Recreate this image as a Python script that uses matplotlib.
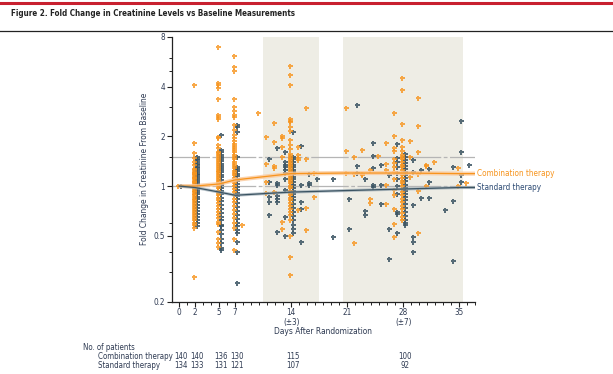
import matplotlib
matplotlib.use("Agg")
import matplotlib.pyplot as plt
from matplotlib.lines import Line2D
from matplotlib import font_manager

# pick a condensed font if one is installed
_avail = {(f.name, f.stretch) for f in font_manager.fontManager.ttflist}
_names = {n for n, s in _avail}
if 'Liberation Sans Narrow' in _names:
    plt.rcParams['font.family'] = ['Liberation Sans Narrow', 'DejaVu Sans']
    SCALE = 1.0
elif any(n == 'DejaVu Sans' and s == 'condensed' for n, s in _avail):
    plt.rcParams['font.family'] = ['DejaVu Sans']
    plt.rcParams['font.stretch'] = 'condensed'
    SCALE = 0.92
else:
    plt.rcParams['font.family'] = ['Liberation Sans', 'DejaVu Sans']
    SCALE = 0.9

# ---------------- data ----------------
combo_points = {
    0: [1.0],
    2: [4.1, 1.83, 1.59, 1.48, 1.4, 1.34, 0.28,
        1.27, 1.25, 1.22, 1.2, 1.18, 1.16, 1.14, 1.12, 1.1, 1.08, 1.06, 1.04, 1.02, 1.0,
        0.98, 0.96, 0.94, 0.92, 0.9, 0.88, 0.86, 0.84, 0.82, 0.8, 0.78, 0.76, 0.74, 0.72,
        0.7, 0.68, 0.66, 0.64, 0.62, 0.6, 0.58, 0.56],
    5: [7.0, 4.2, 4.1, 3.93, 3.37, 2.7, 2.62, 2.55, 1.99, 1.95, 1.78, 1.7,
        1.62, 1.58, 1.54, 1.5, 1.46, 1.42, 1.38, 1.34, 1.3, 1.27, 1.24, 1.21, 1.18, 1.15,
        1.12, 1.09, 1.06, 1.03, 1.0, 0.97, 0.94, 0.91, 0.88, 0.85, 0.82, 0.79, 0.76, 0.73,
        0.7, 0.67, 0.64, 0.61, 0.59, 0.53, 0.48, 0.45, 0.43],
    7: [6.17, 5.28, 5.0, 3.37, 3.01, 2.85, 2.7, 2.62, 2.35, 2.19, 2.04, 1.96, 1.88,
        1.8, 1.75, 1.7, 1.65, 1.6, 1.55, 1.5, 1.45, 1.4, 1.36, 1.32, 1.28, 1.24, 1.2, 1.16,
        1.12, 1.08, 1.04, 1.0, 0.96, 0.92, 0.88, 0.84, 0.8, 0.76, 0.72, 0.68, 0.64, 0.6,
        0.56, 0.48, 0.41],
    8: [0.58],
    10: [2.77],
    11: [1.97, 1.37, 1.06, 0.91],
    12: [2.41, 1.86, 1.33, 1.28, 0.92],
    13: [2.0, 1.95, 1.73, 1.5, 0.61, 0.55],
    14: [5.37, 4.68, 4.1, 2.56, 2.49, 2.43, 2.29, 2.17, 1.9, 1.78, 1.67, 1.56,
         1.52, 1.48, 1.45, 1.42, 1.38, 1.35, 1.32, 1.28, 1.25, 1.22, 1.2, 1.17, 1.14, 1.1,
         1.07, 1.04, 1.0, 0.97, 0.94, 0.91, 0.88, 0.85, 0.82, 0.79, 0.76, 0.73, 0.7, 0.67,
         0.62, 0.5, 0.37, 0.29],
    15: [1.73, 1.54, 1.49, 1.44, 0.72],
    16: [2.99, 1.45, 0.74, 0.54],
    17: [1.2, 0.86],
    21: [2.97, 1.63, 1.2],
    22: [1.5, 1.19, 0.45],
    23: [1.66, 1.18, 1.16],
    24: [1.26, 0.83, 0.79],
    25: [1.53],
    26: [1.83, 1.36, 1.25, 1.01, 0.78],
    27: [2.77, 2.0, 1.7, 1.64, 1.45, 1.38, 1.3, 1.22, 1.1, 0.95, 0.88, 0.73, 0.59, 0.49],
    28: [4.52, 3.83, 2.39, 1.9, 1.73, 1.63, 1.55, 1.5, 1.45, 1.4, 1.35, 1.3, 1.25, 1.2,
         1.16, 1.12, 1.08, 1.04, 1.0, 0.96, 0.92, 0.88, 0.84, 0.8, 0.76, 0.73, 0.69, 0.65,
         0.62],
    29: [1.88, 1.5, 1.14],
    30: [3.41, 2.32, 1.62, 1.19, 0.94, 0.52],
    31: [1.33, 1.34, 1.0],
    32: [1.39],
    35: [1.28, 1.0],
    36: [1.04],
}

standard_points = {
    0: [1.0],
    2: [1.5, 1.46, 1.43, 1.4, 1.37, 1.34, 1.31, 1.28, 1.25, 1.22, 1.19, 1.16, 1.13, 1.1,
        1.07, 1.04, 1.01, 0.98, 0.95, 0.92, 0.89, 0.86, 0.83, 0.8, 0.77, 0.74, 0.71, 0.68,
        0.65, 0.62, 0.6, 0.57],
    5: [2.04, 1.65, 1.6, 1.55, 1.5, 1.45, 1.41, 1.37, 1.33, 1.29, 1.25, 1.21, 1.17, 1.13,
        1.09, 1.05, 1.01, 0.97, 0.93, 0.89, 0.85, 0.81, 0.77, 0.73, 0.69, 0.65, 0.62, 0.58,
        0.57, 0.54, 0.51, 0.48, 0.45, 0.42, 0.41],
    7: [2.35, 2.28, 2.14, 1.5, 1.31, 1.27, 1.23, 1.19, 1.15, 1.11, 1.07, 1.03, 0.99, 0.95,
        0.91, 0.87, 0.83, 0.79, 0.75, 0.71, 0.67, 0.63, 0.6, 0.57, 0.54, 0.52, 0.46, 0.4,
        0.26],
    11: [1.45, 1.06, 0.86, 0.8, 0.67],
    12: [1.69, 1.04, 1.01, 0.87, 0.83, 0.8, 0.53],
    13: [1.62, 1.4, 1.35, 1.3, 1.25, 1.2, 1.1, 0.95, 0.65, 0.5],
    14: [2.13, 1.5, 1.45, 1.4, 1.35, 1.3, 1.26, 1.22, 1.18, 1.14, 1.1, 1.06, 1.02, 0.98,
         0.94, 0.9, 0.86, 0.82, 0.78, 0.74, 0.7, 0.66, 0.62, 0.58, 0.55, 0.52],
    15: [1.76, 1.01, 0.8, 0.73, 0.46],
    16: [1.19, 1.04, 1.01],
    17: [1.11],
    19: [1.1, 0.49],
    21: [0.83, 0.55],
    22: [3.1, 1.32, 1.2],
    23: [1.11, 0.71, 0.67],
    24: [1.83, 1.52, 1.29, 1.01, 0.99],
    25: [1.34, 1.02, 0.78],
    26: [1.17, 0.55, 0.36],
    27: [1.8, 1.49, 1.4, 1.3, 1.2, 1.1, 1.0, 0.9, 0.7, 0.68, 0.52],
    28: [1.56, 1.5, 1.44, 1.38, 1.32, 1.27, 1.22, 1.17, 1.12, 1.07, 1.02, 0.98, 0.94, 0.9,
         0.86, 0.82, 0.78, 0.74, 0.7, 0.66, 0.62, 0.6, 0.58],
    29: [1.44, 1.21, 0.77, 0.49, 0.46, 0.40],
    30: [1.25, 0.85],
    31: [1.27, 1.06, 0.85],
    33: [0.72],
    34: [1.31, 0.81, 0.35],
    35: [2.49, 1.6, 1.17, 1.06],
    36: [1.34],
}

mean_days = [0, 2, 5, 7, 14, 21, 28, 35, 37]
combo_mean = [1.0, 1.0, 1.03, 1.09, 1.19, 1.2, 1.2, 1.19, 1.19]
standard_mean = [1.0, 0.98, 0.92, 0.88, 0.92, 0.94, 0.96, 0.98, 0.98]

shade_windows = [(10.5, 17.5), (20.5, 35.5)]

xtick_pos = [0, 2, 5, 7, 14, 21, 28, 35]
xtick_labels = ['0', '2', '5', '7', '14', '21', '28', '35']
window_days = [14, 28]
window_labels = ['(±3)', '(±7)']
ytick_pos = [0.2, 0.5, 1, 2, 4, 8]
ytick_labels = ['0.2', '0.5', '1', '2', '4', '8']
ytick_minor = [0.3, 0.4, 0.6, 1.5, 3, 5, 6]

risk_days = [0, 2, 5, 7, 14, 28]
risk_combo = [140, 140, 136, 130, 115, 100]
risk_standard = [134, 133, 131, 121, 107, 92]

# ---------------- style ----------------
ORANGE = '#F7941D'
SLATE = '#3B5463'
NAVY = '#2C4A73'
SHADE = '#EEEDE5'
REFGRAY = '#B5B5B5'
TXT = '#2E3A52'

W, H = 613, 374
fig = plt.figure(figsize=(W / 100, H / 100), dpi=100)

def fx(px):
    return px / W

def fy(py):
    return 1 - py / H

def fs(v):
    return v * SCALE

# header
fig.add_artist(Line2D([0, 1], [fy(2.5), fy(2.5)], color='#C8202F', lw=2.2, transform=fig.transFigure))
fig.text(fx(11), fy(13.5), 'Figure 2. Fold Change in Creatinine Levels vs Baseline Measurements',
         fontsize=fs(6.3), fontweight='bold', color='#222222', ha='left', va='center')
fig.add_artist(Line2D([0, 1], [fy(30.5), fy(30.5)], color='#222222', lw=0.9, transform=fig.transFigure))

ax = fig.add_axes([fx(172), fy(301.5), fx(475) - fx(172), fy(37) - fy(301.5)])
ax.set_yscale('log')
ax.set_xlim(-0.9, 37.0)
ax.set_ylim(0.2, 8)

for a, b in shade_windows:
    ax.axvspan(a, b, color=SHADE, lw=0, zorder=0)

for yv in [1.0, 1.5]:
    ax.axhline(yv, color=REFGRAY, lw=0.9, dashes=(30, 2, 3, 2), zorder=1)

def scatter_group(points, offset, color, alpha, z):
    xs, ys = [], []
    for d, vals in points.items():
        for v in vals:
            xs.append(d + offset)
            ys.append(v)
    ax.plot(xs, ys, linestyle='none', marker='P', markersize=3.6, markerfacecolor=color,
            markeredgecolor=color, markeredgewidth=0.0, alpha=alpha, zorder=z)

scatter_group(combo_points, -0.15, ORANGE, 0.8, 3)
scatter_group(standard_points, 0.2, SLATE, 0.85, 2)

ax.plot(mean_days, combo_mean, color='#FBC99A', lw=3.0, alpha=0.8, zorder=4, solid_capstyle='butt')
ax.plot(mean_days, combo_mean, color=ORANGE, lw=0.9, zorder=5)
ax.plot(mean_days, standard_mean, color='#9AA9B2', lw=2.2, alpha=0.7, zorder=4, solid_capstyle='butt')
ax.plot(mean_days, standard_mean, color=SLATE, lw=0.9, zorder=5)

ax.text(37.3, 1.2, 'Combination therapy', color=ORANGE, fontsize=fs(6.4), va='center', ha='left',
        clip_on=False)
ax.text(37.3, 0.985, 'Standard therapy', color=NAVY, fontsize=fs(6.4), va='center', ha='left',
        clip_on=False)

# axes styling
for s in ['top', 'right']:
    ax.spines[s].set_visible(False)
for s in ['left', 'bottom']:
    ax.spines[s].set_color('#222222')
    ax.spines[s].set_linewidth(0.9)

ax.set_yticks(ytick_pos)
ax.set_yticklabels(ytick_labels)
ax.set_yticks(ytick_minor, minor=True)
ax.yaxis.set_minor_formatter(matplotlib.ticker.NullFormatter())
ax.set_xticks(xtick_pos)
ax.set_xticklabels(xtick_labels)
ax.set_xticks(list(range(0, 38)), minor=True)
ax.tick_params(axis='both', which='major', direction='out', length=3.5, width=0.8,
               labelsize=fs(6.4), colors='#222222', labelcolor=TXT, pad=1.5)
ax.tick_params(axis='both', which='minor', direction='out', length=2.2, width=0.7, colors='#222222')

# window sub-labels under 14 and 28
for d, lab in zip(window_days, window_labels):
    fig.text(fx(179 + 8 * d + 1), fy(322), lab, fontsize=fs(6.4), color=TXT, ha='center', va='center')

ax.set_ylabel('Fold Change in Creatinine From Baseline', fontsize=fs(6.6), color=TXT, labelpad=3)
fig.text(fx(323), fy(332), 'Days After Randomization', fontsize=fs(6.6), color=TXT,
         ha='center', va='center')

# number at risk
fig.text(fx(83), fy(347), 'No. of patients', fontsize=fs(6.2), color=TXT, ha='left', va='center')
fig.text(fx(98), fy(356.5), 'Combination therapy', fontsize=fs(6.2), color=TXT, ha='left', va='center')
fig.text(fx(98), fy(365.5), 'Standard therapy', fontsize=fs(6.2), color=TXT, ha='left', va='center')
for d, c, s in zip(risk_days, risk_combo, risk_standard):
    xf = fx(181 + 8 * d)
    fig.text(xf, fy(356.5), str(c), fontsize=fs(6.2), color=TXT, ha='center', va='center')
    fig.text(xf, fy(365.5), str(s), fontsize=fs(6.2), color=TXT, ha='center', va='center')

fig.savefig('out.png', dpi=100)
